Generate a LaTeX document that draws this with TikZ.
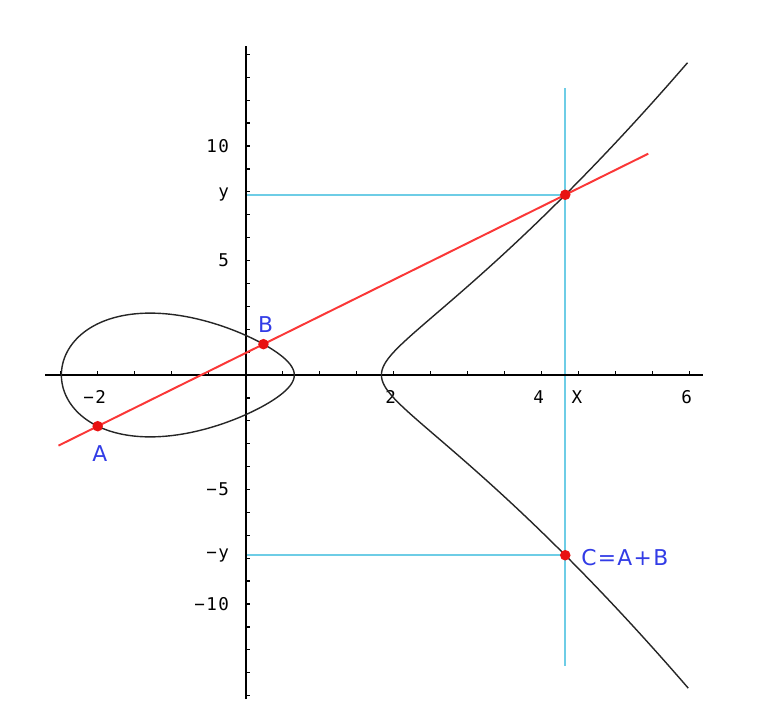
\documentclass[tikz,border=0pt]{standalone}
\usepackage{fontspec}
\newfontfamily\axisfont[LetterSpace=8]{DejaVu Sans Mono}
\newfontfamily\ptfont[LetterSpace=6]{DejaVu Sans}
\usetikzlibrary{positioning}
\definecolor{chordred}{RGB}{250,55,55}
\definecolor{dotred}{RGB}{232,18,18}
\definecolor{guidecyan}{RGB}{110,205,230}
\definecolor{ptblue}{RGB}{50,60,230}

\begin{document}
\begin{tikzpicture}[
    x=1.85cm, y=0.5725cm,
    declare function={ecy(\u)=sqrt(max(0,\u*\u*\u-5*\u+3));},
    axis/.style={line width=1.4pt, black},
    tick/.style={line width=0.9pt, black},
    curve/.style={line width=1pt, black!85},
    chord/.style={line width=1.4pt, chordred},
    guide/.style={line width=1.1pt, guidecyan},
    dot/.style={circle, fill=dotred, inner sep=0pt, minimum size=7.5pt},
    ptlabel/.style={text=ptblue, font=\ptfont\fontsize{15.5}{15.5}\selectfont},
    numlabel/.style={font=\axisfont\fontsize{12.5}{12.5}\selectfont}
  ]
  \useasboundingbox (-3.3203,-15.022) rectangle (6.977,16.376);

  \coordinate (xl) at (-2.71,0);
  \coordinate (xr) at (6.18,0);
  \coordinate (yb) at (0,-14.15);
  \coordinate (yt) at (0,14.35);
  \coordinate (vt) at (4.31837,12.55);
  \coordinate (vb) at (4.31837,-12.7);
  \coordinate (yp) at (0,7.87011);
  \coordinate (yn) at (0,-7.87011);
  \coordinate (L1) at (-2.53,-3.0838);
  \coordinate (L2) at (5.44,9.664);

  \draw[guide] (vb) -- (vt);
  \draw[guide] (yp) -- (4.31837,7.87011);
  \draw[guide] (yn) -- (4.31837,-7.87011);

  \draw[axis] (xl) -- (xr);
  \draw[axis] (yb) -- (yt);
  \foreach \i in {-2.5,-2,...,6}
    \draw[tick] (\i,0) -- ++(0pt,3pt);
  \foreach \j in {-14,...,14}
    \draw[tick] (0,\j) -- ++(3pt,0pt);

  \foreach \v/\t [count=\k] in {10/10, 7.87011/y, 5/5, -5/−5, -7.87011/−y, -10/−10}
    \node[numlabel, anchor=east] (ty\k) at (-0.16,\v) {\t};
  \foreach \v/\t [count=\k] in {-2.04/−2, 1.96/2, 3.96/4, 4.477/X, 5.96/6}
    \node[numlabel] (tx\k) at (\v,-0.96) {\t};

  \draw[curve] plot[domain=0:360, samples=181, variable=\t, smooth]
    ({-0.91713-1.57375*cos(\t)}, {sign(sin(\t))*ecy(-0.91713-1.57375*cos(\t))}) -- cycle;
  \draw[curve] plot[domain=-2.0361:2.0361, samples=161, variable=\t, smooth]
    ({1.83426+\t*\t}, {sign(\t)*ecy(1.83426+\t*\t)});

  \draw[chord] (L1) -- (L2);

  \node[dot] (dA) at (-2,-2.23607) {};
  \node[dot] (dB) at (0.24,1.34678) {};
  \node[dot] (dR) at (4.31837,7.87011) {};
  \node[dot] (dC) at (4.31837,-7.87011) {};

  \node[ptlabel, below=6pt of dA, xshift=1.5pt] (lA) {A};
  \node[ptlabel, above=1pt of dB, xshift=1.5pt] (lB) {B};
  \node[ptlabel, right=4pt of dC, yshift=-1.5pt] (lC) {C=A+B};
\end{tikzpicture}
\end{document}
